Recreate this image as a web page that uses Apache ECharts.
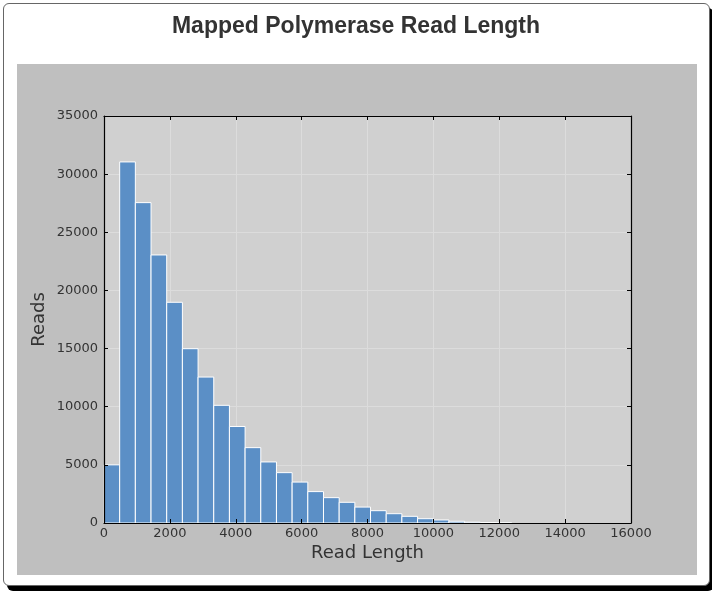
<!DOCTYPE html>
<html>
<head>
<meta charset="utf-8">
<script src="https://cdn.jsdelivr.net/npm/echarts@6/dist/echarts.min.js"></script>
<style>
html,body{margin:0;padding:0;width:712px;height:594px;background:#fff;overflow:hidden;}
#card{position:absolute;left:3px;top:3px;width:705px;height:581px;border:1px solid #666;border-radius:6px;box-shadow:4px 5px 0 #000;background:#fff;}
#chart{position:absolute;left:0;top:0;width:712px;height:594px;}
</style>
</head>
<body>
<div id="card"></div>
<div id="chart"></div>
<script>
var titleText = 'Mapped Polymerase Read Length';
var xName = 'Read Length';
var yName = 'Reads';
var binEdges = [0,476,952,1428,1904,2380,2856,3332,3808,4284,4760,5236,5712,6188,6664,7140,7616,8092,8568,9044,9520,9996,10472,10948,11424,11900,12376];
var counts = [5000,31050,27550,23050,18980,14990,12550,10120,8300,6480,5250,4330,3520,2700,2180,1780,1370,1060,800,575,370,260,150,70,40,20];

var data = counts.map(function(c, i){ return [binEdges[i], binEdges[i+1], c]; });

var chart = echarts.init(document.getElementById('chart'), null, {renderer:'canvas'});
var tickFont = {color:'#333', fontSize:13, fontFamily:'DejaVu Sans', formatter:function(v){return String(v);}};
var lineStyle = {show:true,onZero:false,lineStyle:{color:'#000',width:1.2}};
var tickStyle = {show:true,inside:true,length:4,lineStyle:{color:'#000'}};
var splitStyle = {show:true,lineStyle:{color:'#dcdcdc',width:1}};
chart.setOption({
  backgroundColor:'transparent',
  animation:false,
  title:{text:titleText,left:'center',top:10,textStyle:{fontFamily:'Liberation Sans',fontWeight:'bold',fontSize:23,color:'#333'}},
  graphic:[{type:'rect',shape:{x:17,y:64,width:680,height:511},style:{fill:'#bfbfbf'},z:-10,silent:true}],
  grid:{left:104,top:116,width:527,height:407,show:true,backgroundColor:'#d0d0d0',borderWidth:0},
  xAxis:[{type:'value',min:0,max:16000,interval:2000,position:'bottom',z:10,
    name:xName,nameLocation:'middle',nameGap:21,nameMoveOverlap:false,nameTextStyle:{fontSize:18,fontFamily:'DejaVu Sans',color:'#333'},
    axisLine:lineStyle,axisTick:tickStyle,
    axisLabel:Object.assign({margin:4},tickFont),
    splitLine:{show:false}},
   {type:'value',min:0,max:16000,interval:2000,position:'top',z:0,
    axisLine:lineStyle,axisTick:tickStyle,axisLabel:{show:false},splitLine:splitStyle}],
  yAxis:[{type:'value',min:0,max:35000,interval:5000,position:'left',z:10,
    name:yName,nameLocation:'middle',nameGap:56,nameMoveOverlap:false,nameRotate:90,nameTextStyle:{fontSize:18,fontFamily:'DejaVu Sans',color:'#333'},
    axisLine:lineStyle,axisTick:tickStyle,
    axisLabel:Object.assign({margin:6},tickFont),
    splitLine:{show:false}},
   {type:'value',min:0,max:35000,interval:5000,position:'right',z:0,
    axisLine:lineStyle,axisTick:tickStyle,axisLabel:{show:false},splitLine:splitStyle}],
  series:[{
    type:'custom',
    z:1,
    xAxisIndex:0,yAxisIndex:0,
    data:data,
    encode:{x:[0,1],y:2},
    renderItem:function(params, api){
      var p0 = api.coord([api.value(0), api.value(2)]);
      var p1 = api.coord([api.value(1), 0]);
      return {type:'rect',shape:{x:p0[0],y:p0[1],width:p1[0]-p0[0],height:p1[1]-p0[1]},
        style:{fill:'#5b8fc6',stroke:'#ffffff',lineWidth:1}};
    }
  }]
});
</script>
</body>
</html>
